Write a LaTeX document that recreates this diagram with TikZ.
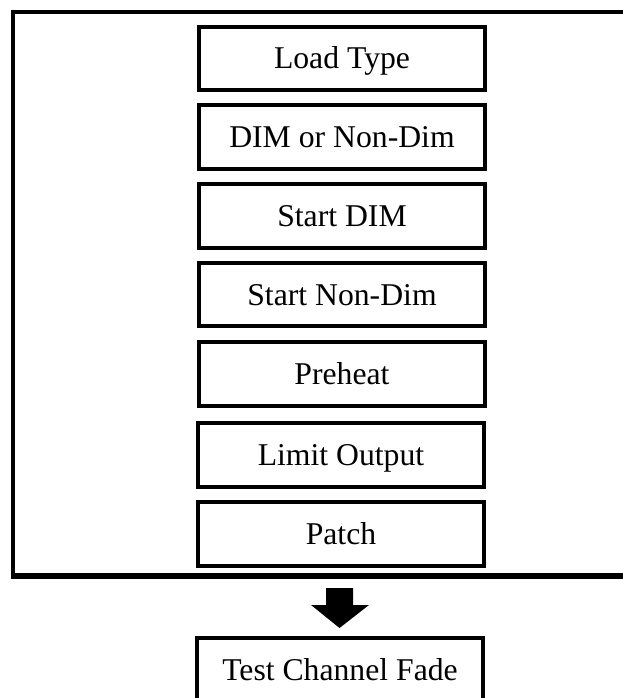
\documentclass[tikz,border=0pt]{standalone}
\usepackage{fontspec}
\setmainfont{Liberation Serif}
\begin{document}
\begin{tikzpicture}[x=1pt,y=-1pt,
  stepbox/.style={draw=black, line width=4pt, minimum width=286pt, minimum height=63.5pt,
    inner sep=0pt, text height=21pt, text depth=0pt,
    font=\fontsize{31.7}{38}\selectfont},
  frameline/.style={line width=4pt},
  blockarrow/.style={fill=black, draw=none}]
\useasboundingbox (0,0) rectangle (623,698);
\clip (0,0) rectangle (623,698);
% outer frame (open on the right, cut by the picture edge)
\draw[frameline] (640,12.5) -- (13,12.5) -- (13,576);
\draw[line width=5.5pt] (10.5,576) -- (640,576);
% boxes
\node[stepbox] (load)    at (342, 58.5)  {Load Type};
\node[stepbox] (dim)     at (342, 137.0) {DIM or Non-Dim};
\node[stepbox] (sdim)    at (342, 216.0) {Start DIM};
\node[stepbox] (snondim) at (342, 294.5) {Start Non-Dim};
\node[stepbox] (preheat) at (342, 374.0) {Preheat};
\node[stepbox] (limit)   at (341, 455.0) {Limit Output};
\node[stepbox] (patch)   at (341, 534.0) {Patch};
\node[stepbox] (test)    at (340, 669.5) {Test Channel Fade};
% block arrow
\fill[blockarrow] (326,588) -- (353,588) -- (353,605) -- (369,605)
  -- (339.5,628) -- (311,605) -- (326,605) -- cycle;
\end{tikzpicture}
\end{document}
